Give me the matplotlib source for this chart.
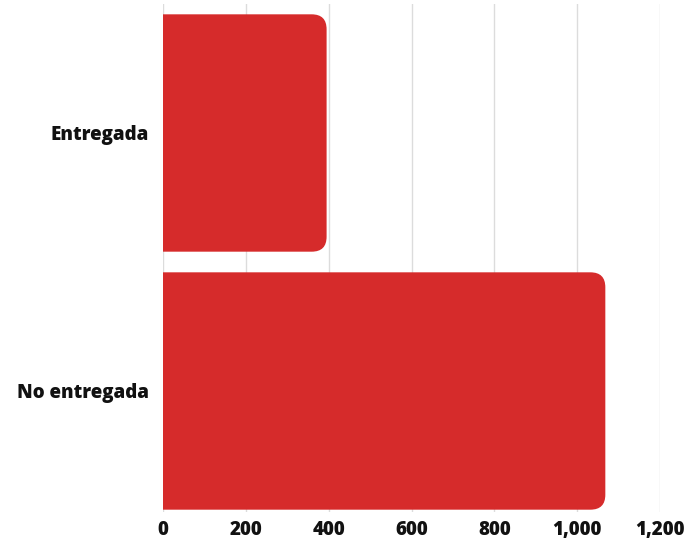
import matplotlib
matplotlib.use("Agg")
import matplotlib.pyplot as plt
from matplotlib.patches import FancyBboxPatch

categories = ["Entregada", "No entregada"]
values = [395, 1068]
xticks = [0, 200, 400, 600, 800, 1000, 1200]
xtick_labels = ["0", "200", "400", "600", "800", "1,000", "1,200"]

bar_color = "#d62b2b"
grid_color = "#dcdcdc"

plt.rcParams["font.family"] = ["Open Sans", "DejaVu Sans"]

fig = plt.figure(figsize=(6.87, 5.40), dpi=100)
ax = fig.add_axes([163 / 687, 28 / 540, (660 - 163) / 687, (512 - 4) / 540])

ax.set_xlim(0, 1200)
ax.set_ylim(1.469, -0.5)

bar_h = 0.92
radius = 36
aspect = 0.058 / radius
for i, v in enumerate(values):
    # extend past zero so the left corners are clipped square by the axes
    box = FancyBboxPatch((-100, i - bar_h / 2), v + 100, bar_h,
                         boxstyle=f"round,pad=0,rounding_size={radius}",
                         mutation_aspect=aspect,
                         facecolor=bar_color, edgecolor="none", zorder=3)
    ax.add_patch(box)

ax.set_xticks(xticks)
ax.set_xticklabels(xtick_labels)
ax.set_yticks(range(len(categories)))
ax.set_yticklabels(categories)

ax.grid(axis="x", color=grid_color, linewidth=1, zorder=0)
ax.grid(axis="y", visible=False)
for s in ax.spines.values():
    s.set_visible(False)
ax.tick_params(axis="both", length=0, labelsize=13.5)
ax.tick_params(axis="x", pad=6)
ax.tick_params(axis="y", pad=10)
for lbl in ax.get_xticklabels() + ax.get_yticklabels():
    lbl.set_fontweight(800)
    lbl.set_color("#111111")

fig.savefig("out.png", dpi=100, facecolor="white")
